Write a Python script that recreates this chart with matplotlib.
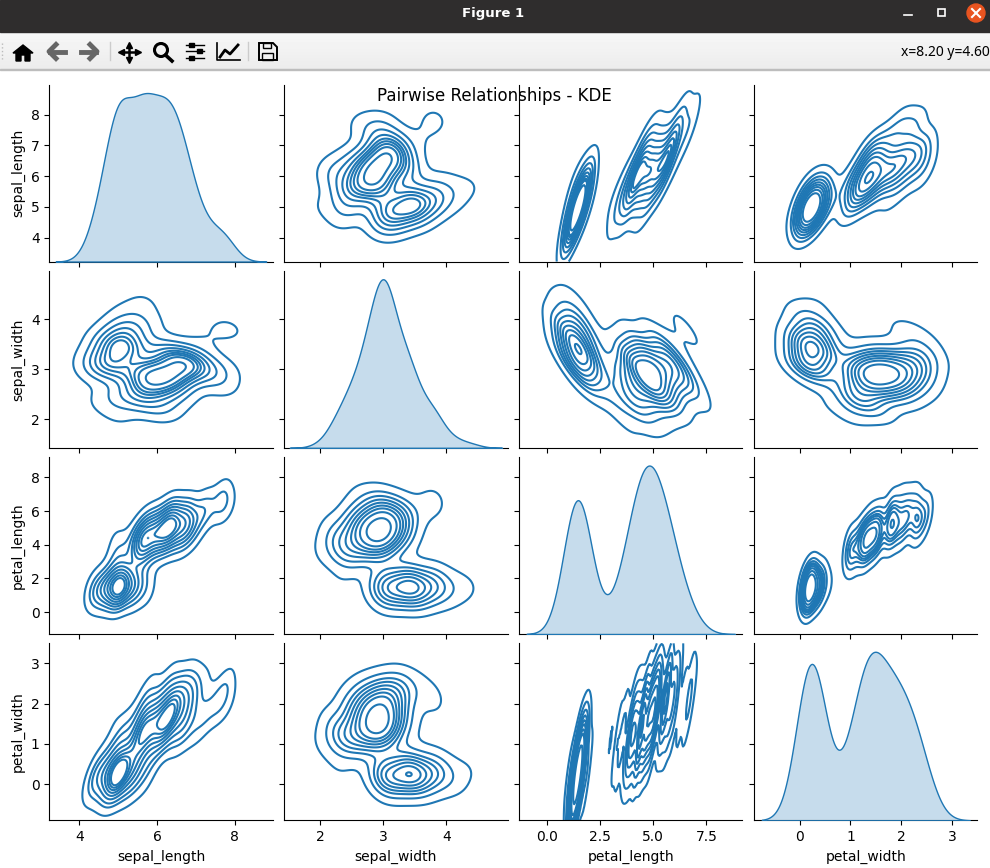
import numpy as np
import pandas as pd
import seaborn as sns
import matplotlib
matplotlib.use("Agg")
import matplotlib.pyplot as plt
from matplotlib.patches import Rectangle, Circle, Polygon

sepal_length = [5.1,4.9,4.7,4.6,5.0,5.4,4.6,5.0,4.4,4.9,5.4,4.8,4.8,4.3,5.8,5.7,5.4,5.1,5.7,5.1,5.4,5.1,4.6,5.1,4.8,5.0,5.0,5.2,5.2,4.7,4.8,5.4,5.2,5.5,4.9,5.0,5.5,4.9,4.4,5.1,5.0,4.5,4.4,5.0,5.1,4.8,5.1,4.6,5.3,5.0,
    7.0,6.4,6.9,5.5,6.5,5.7,6.3,4.9,6.6,5.2,5.0,5.9,6.0,6.1,5.6,6.7,5.6,5.8,6.2,5.6,5.9,6.1,6.3,6.1,6.4,6.6,6.8,6.7,6.0,5.7,5.5,5.5,5.8,6.0,5.4,6.0,6.7,6.3,5.6,5.5,5.5,6.1,5.8,5.0,5.6,5.7,5.7,6.2,5.1,5.7,
    6.3,5.8,7.1,6.3,6.5,7.6,4.9,7.3,6.7,7.2,6.5,6.4,6.8,5.7,5.8,6.4,6.5,7.7,7.7,6.0,6.9,5.6,7.7,6.3,6.7,7.2,6.2,6.1,6.4,7.2,7.4,7.9,6.4,6.3,6.1,7.7,6.3,6.4,6.0,6.9,6.7,6.9,5.8,6.8,6.7,6.7,6.3,6.5,6.2,5.9]
sepal_width = [3.5,3.0,3.2,3.1,3.6,3.9,3.4,3.4,2.9,3.1,3.7,3.4,3.0,3.0,4.0,4.4,3.9,3.5,3.8,3.8,3.4,3.7,3.6,3.3,3.4,3.0,3.4,3.5,3.4,3.2,3.1,3.4,4.1,4.2,3.1,3.2,3.5,3.6,3.0,3.4,3.5,2.3,3.2,3.5,3.8,3.0,3.8,3.2,3.7,3.3,
    3.2,3.2,3.1,2.3,2.8,2.8,3.3,2.4,2.9,2.7,2.0,3.0,2.2,2.9,2.9,3.1,3.0,2.7,2.2,2.5,3.2,2.8,2.5,2.8,2.9,3.0,2.8,3.0,2.9,2.6,2.4,2.4,2.7,2.7,3.0,3.4,3.1,2.3,3.0,2.5,2.6,3.0,2.6,2.3,2.7,3.0,2.9,2.9,2.5,2.8,
    3.3,2.7,3.0,2.9,3.0,3.0,2.5,2.9,2.5,3.6,3.2,2.7,3.0,2.5,2.8,3.2,3.0,3.8,2.6,2.2,3.2,2.8,2.8,2.7,3.3,3.2,2.8,3.0,2.8,3.0,2.8,3.8,2.8,2.8,2.6,3.0,3.4,3.1,3.0,3.1,3.1,3.1,2.7,3.2,3.3,3.0,2.5,3.0,3.4,3.0]
petal_length = [1.4,1.4,1.3,1.5,1.4,1.7,1.4,1.5,1.4,1.5,1.5,1.6,1.4,1.1,1.2,1.5,1.3,1.4,1.7,1.5,1.7,1.5,1.0,1.7,1.9,1.6,1.6,1.5,1.4,1.6,1.6,1.5,1.5,1.4,1.5,1.2,1.3,1.4,1.3,1.5,1.3,1.3,1.3,1.6,1.9,1.4,1.6,1.4,1.5,1.4,
    4.7,4.5,4.9,4.0,4.6,4.5,4.7,3.3,4.6,3.9,3.5,4.2,4.0,4.7,3.6,4.4,4.5,4.1,4.5,3.9,4.8,4.0,4.9,4.7,4.3,4.4,4.8,5.0,4.5,3.5,3.8,3.7,3.9,5.1,4.5,4.5,4.7,4.4,4.1,4.0,4.4,4.6,4.0,3.3,4.2,4.2,4.2,4.3,3.0,4.1,
    6.0,5.1,5.9,5.6,5.8,6.6,4.5,6.3,5.8,6.1,5.1,5.3,5.5,5.0,5.1,5.3,5.5,6.7,6.9,5.0,5.7,4.9,6.7,4.9,5.7,6.0,4.8,4.9,5.6,5.8,6.1,6.4,5.6,5.1,5.6,6.1,5.6,5.5,4.8,5.4,5.6,5.1,5.1,5.9,5.7,5.2,5.0,5.2,5.4,5.1]
petal_width = [0.2,0.2,0.2,0.2,0.2,0.4,0.3,0.2,0.2,0.1,0.2,0.2,0.1,0.1,0.2,0.4,0.4,0.3,0.3,0.3,0.2,0.4,0.2,0.5,0.2,0.2,0.4,0.2,0.2,0.2,0.2,0.4,0.1,0.2,0.2,0.2,0.2,0.1,0.2,0.2,0.3,0.3,0.2,0.6,0.4,0.3,0.2,0.2,0.2,0.2,
    1.4,1.5,1.5,1.3,1.5,1.3,1.6,1.0,1.3,1.4,1.0,1.5,1.0,1.4,1.3,1.4,1.5,1.0,1.5,1.1,1.8,1.3,1.5,1.2,1.3,1.4,1.4,1.7,1.5,1.0,1.1,1.0,1.2,1.6,1.5,1.6,1.5,1.3,1.3,1.3,1.2,1.4,1.2,1.0,1.3,1.2,1.3,1.3,1.1,1.3,
    2.5,1.9,2.1,1.8,2.2,2.1,1.7,1.8,1.8,2.5,2.0,1.9,2.1,2.0,2.4,2.3,1.8,2.2,2.3,1.5,2.3,2.0,2.0,1.8,2.1,1.8,1.8,1.8,2.1,1.6,1.9,2.0,2.2,1.5,1.4,2.3,2.4,1.8,1.8,2.1,2.4,2.3,1.9,2.3,2.5,2.3,1.9,2.0,2.3,1.8]

df = pd.DataFrame({"sepal_length": sepal_length, "sepal_width": sepal_width,
                   "petal_length": petal_length, "petal_width": petal_width})


# The reference panels are not mirror images of each other, its kernels are
# sheared: the distance uses L.T @ L with L the lower cholesky of the precision.
def sheared_kde(x, y, color=None, **kws):
    data = np.vstack([x, y])
    factor = data.shape[1] ** (-1 / 6)
    cov = np.cov(data) * factor ** 2
    chol = np.linalg.cholesky(np.linalg.inv(cov))
    xs = np.linspace(data[0].min() - 3 * np.sqrt(cov[0, 0]), data[0].max() + 3 * np.sqrt(cov[0, 0]), 200)
    ys = np.linspace(data[1].min() - 3 * np.sqrt(cov[1, 1]), data[1].max() + 3 * np.sqrt(cov[1, 1]), 200)
    xx, yy = np.meshgrid(xs, ys)
    dx = xx[..., None] - data[0]
    dy = yy[..., None] - data[1]
    u = chol[0, 0] * dx
    v = chol[1, 0] * dx + chol[1, 1] * dy
    density = np.exp(-0.5 * (u ** 2 + v ** 2)).sum(axis=-1)

    # same iso-proportion levels as kdeplot
    ordered = np.sort(density.ravel())[::-1]
    cumulative = np.cumsum(ordered) / ordered.sum()
    props = np.linspace(0.05, 1, 10)
    levels = np.take(ordered, np.searchsorted(cumulative, 1 - props), mode="clip")
    plt.gca().contour(xx, yy, density, levels=levels, colors=[color])


g = sns.PairGrid(df, diag_sharey=False)
g.map_diag(sns.kdeplot, fill=True)
g.map_offdiag(sheared_kde)
fig = g.figure
fig.set_size_inches(9.9, 8.68)
W, H = 990, 868
fig.subplots_adjust(left=49.3/W, right=977.4/W, top=1-84.6/H, bottom=1-820.3/H, wspace=0.052, hspace=0.0525)
fig.suptitle("Pairwise Relationships - KDE", x=494/W, y=1-87/H, fontsize=12)

# window title bar and toolbar around the canvas
ui = fig.add_axes([0, 0, 1, 1], zorder=-1)
ui.imshow(np.linspace(0.97, 0.925, 38)[:, None], cmap="gray", vmin=0, vmax=1, aspect="auto", extent=(0, W, 69, 31))
ui.set_xlim(0, W)
ui.set_ylim(H, 0)
ui.axis("off")
ui.add_patch(Rectangle((0, 0), W, 31.5, color="#2f2d2d"))
ui.add_patch(Rectangle((0, 69), W, 1.2, color="#bdbdbd"))
ui.text(493, 14, "Figure 1", color="white", fontsize=9.5, fontweight="bold", ha="center", va="center")
ui.text(989.5, 52, "x=8.20 y=4.60", color="black", fontsize=10, family="Noto Sans", ha="right", va="center")
ui.plot([904, 912], [15, 15], color="white", lw=1.2)
ui.add_patch(Rectangle((938, 9), 7, 7, fill=False, ec="white", lw=1.2))
ui.add_patch(Circle((976, 13), 9, color="#e95420"))
ui.plot([972, 980], [9, 17], color="white", lw=1.5)
ui.plot([972, 980], [17, 9], color="white", lw=1.5)

# toolbar icons
ui.add_patch(Polygon([(13, 53), (23, 45), (33, 53), (30, 53), (30, 61), (25, 61), (25, 55), (21, 55), (21, 61), (16, 61), (16, 53)], color="black"))
ui.plot([50, 65], [51.5, 51.5], color="#666666", lw=3.5)
ui.plot([56, 49, 56], [44.5, 51.5, 58.5], color="#666666", lw=3.5)
ui.plot([81, 96], [51.5, 51.5], color="#666666", lw=3.5)
ui.plot([90, 97, 90], [44.5, 51.5, 58.5], color="#666666", lw=3.5)
ui.plot([121, 137], [52, 52], color="black", lw=1.8)
ui.plot([129, 129], [45, 60], color="black", lw=1.8)
for mx, my, m in [(120.5, 52, "<"), (137.5, 52, ">"), (129, 44.5, "^"), (129, 60, "v")]:
    ui.plot(mx, my, marker=m, color="black", markersize=4.5)
ui.add_patch(Circle((161, 50), 6.5, fill=False, ec="black", lw=2.2))
ui.plot([165.5, 172], [55, 61], color="black", lw=2.6)
for y, x in [(45, 191), (51, 199), (58, 191)]:
    ui.plot([186, 204], [y, y], color="black", lw=1)
    ui.add_patch(Rectangle((x-2, y-2), 5, 4, color="black"))
ui.plot([217, 217, 240], [43, 60, 60], color="black", lw=1.2)
ui.plot([220, 225, 230, 238], [57, 50, 54, 45], color="black", lw=2)
ui.add_patch(Polygon([(259, 43), (273, 43), (277, 47), (277, 60), (259, 60)], fill=False, ec="black", lw=1.4))
ui.add_patch(Rectangle((263, 43), 8, 5, fill=False, ec="black", lw=1))
ui.add_patch(Rectangle((262, 53), 11, 7, fill=False, ec="black", lw=1))
for x in [110, 248]:
    ui.plot([x, x], [42, 60], color="#cccccc", lw=1)
ui.plot([2, 2], [43, 59], color="#bbbbbb", lw=1, linestyle=":")

fig.savefig("out.png", dpi=100)
